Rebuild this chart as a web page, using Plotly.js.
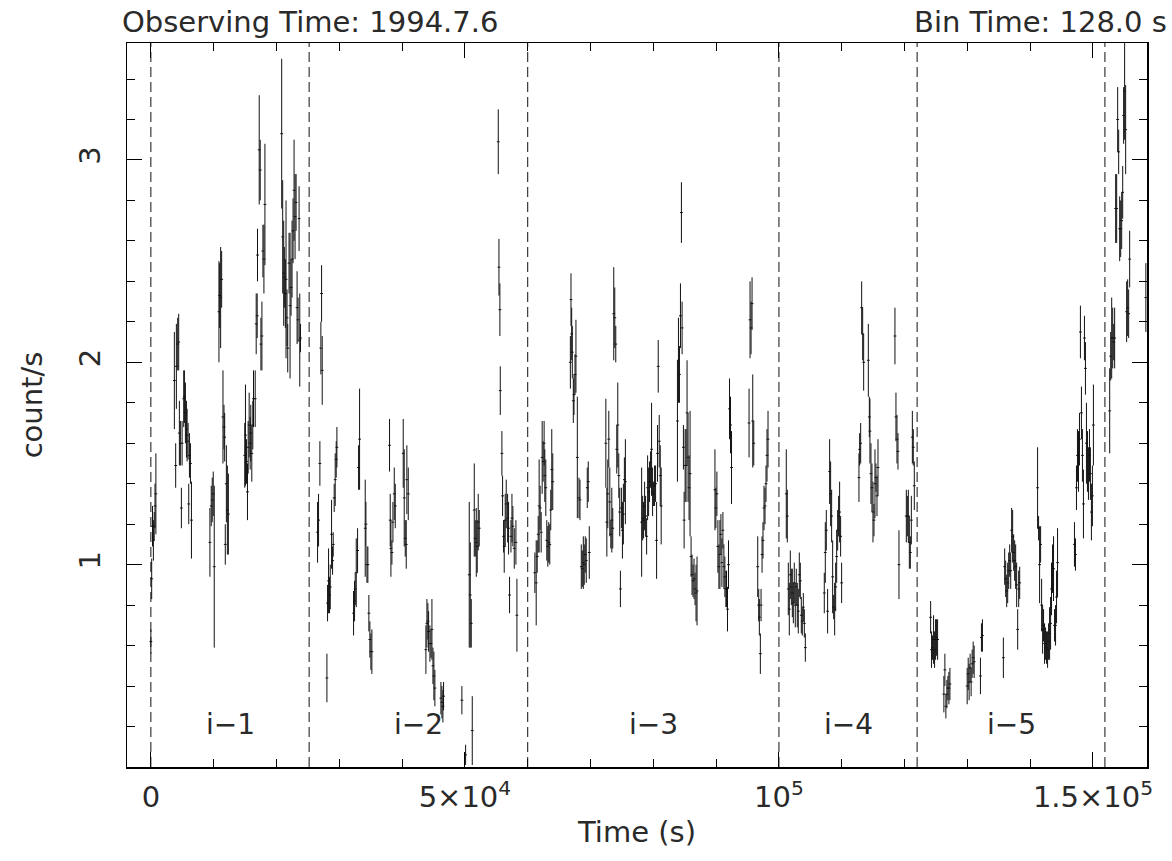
<!DOCTYPE html>
<html>
<head>
<meta charset="utf-8">
<script src="https://cdn.plot.ly/plotly-3.0.1.min.js"></script>
<style>
  html, body { margin: 0; padding: 0; background: #ffffff; }
  #chart { width: 1172px; height: 861px; }
</style>
</head>
<body>
<div id="chart"></div>
<script>
// ---- Light curve data (128 s bins) ----
const timeSec = [
  0,130,260,400,530,660,800,
  3740,3950,4060,4270,4430,4540,4700,4860,4970,5230,5340,5500,5660,5770,5930,6030,6140,6300,6460,
  9400,9610,9770,9930,10090,
  10840,10950,11110,11270,11480,11640,11750,11850,12020,12180,12340,
  14950,15060,15220,15380,15490,15650,15810,15910,16070,16230,16340,16610,16770,16930,16980,17250,17410,17520,17680,17840,18000,18160,
  20830,20990,21150,21250,21410,21520,21680,21790,22000,22160,22320,22480,22640,22800,22960,23120,23280,23440,23600,23710,23820,
  26540,26700,26910,27070,27180,27280,28030,
  28130,28290,28450,28560,28770,28930,29030,29190,29350,29510,29620,
  32270,32430,32540,32700,32910,33070,33230,34130,34240,34400,34550,34710,34870,35030,35190,
  38000,38110,38220,38380,38540,38750,38910,40180,40340,40500,40660,40760,40980,
  43790,43950,44110,44220,44430,44590,44750,44910,45060,45220,46180,46340,46500,46600,49520,50110,
  50690,50850,51010,51170,51490,51650,51810,51960,52120,52280,
  55310,55420,55570,55630,55890,56000,56160,56260,56420,56580,56800,56950,57110,57330,57490,57640,57860,58120,58280,
  61140,61350,61510,61670,61820,61980,62140,62300,62460,62610,62720,62880,63040,63200,63350,63510,63670,63830,63990,
  66790,66890,67000,67100,67260,67370,67530,67680,67900,68160,68320,68530,68690,68850,69000,69160,69320,69480,69640,69800,
  72440,72600,72750,72910,73070,73230,73390,73540,73700,73860,74020,74180,74340,74500,74650,74760,74920,75080,75230,75390,75550,
  78140,78300,78450,78610,78770,78930,79090,79250,79400,79560,79720,79880,80040,80200,80360,80520,80670,80780,80940,81100,81250,
  83840,84000,84160,84320,84470,84580,84790,84900,85060,85210,85370,85530,85690,85850,86010,86160,86320,86480,86640,86800,86960,
  89810,89960,90120,90280,90440,90600,90760,90920,91080,91230,91390,91550,91660,91810,91970,92130,92290,92450,
  95240,95400,95560,95720,95830,95990,96620,96780,96880,97040,97150,97310,97460,97620,97780,97940,98100,98260,
  101170,101330,101490,101650,101810,101970,102130,102290,102440,102600,102760,102920,103080,103240,103400,103560,103720,103880,104040,104200,
  107220,107380,107540,107750,108070,108230,108390,108550,108710,108870,109030,109190,109350,109500,109660,109820,109980,
  112740,112850,113010,113170,113330,113490,114230,114390,114490,114650,114810,114970,115130,115290,115450,115610,115770,
  118470,118630,118790,118950,119110,120280,120440,120600,120760,120920,121080,121240,121390,121550,
  124150,124300,124460,124620,124780,124940,125100,125260,
  126260,126420,126580,126740,126900,127060,127220,
  129970,130130,130280,130440,130600,130760,130920,131080,132080,132240,132400,
  135730,135940,136100,136260,136420,136580,136740,136900,137050,137210,137370,137530,137690,137850,138010,138170,138330,
  141180,141340,141500,141660,141820,141980,142130,142290,142450,142610,142770,142930,143090,143250,143400,143560,143720,143880,144040,144200,144360,
  147050,147210,147370,147530,147690,147850,148000,148160,148320,148480,148640,148800,148960,149120,149280,149440,149590,149750,149910,150070,
  152660,152820,152980,153140,153300,153450,153610,153770,153930,154090,154250,154410,154570,154730,154880,155040,155200,155360,155520,155680,155840,158420
];
const rateCps = [
  0.62,0.93,1.19,1.12,1.19,1.29,1.35,
  1.91,1.49,1.98,2.09,2.10,1.65,1.60,1.28,1.60,1.82,1.83,1.75,1.67,1.64,1.61,1.30,1.54,1.50,1.22,
  1.11,1.29,1.32,1.35,0.99,
  2.25,2.33,2.32,2.41,1.73,1.68,1.63,1.10,1.40,1.27,1.25,
  1.54,1.64,1.51,1.36,1.58,1.69,1.60,1.65,1.55,1.69,1.82,1.82,2.19,2.23,2.53,3.05,2.95,2.09,2.13,2.55,2.51,2.78,
  3.13,2.62,2.44,2.42,2.34,2.41,2.22,2.07,2.49,2.28,2.37,2.51,2.65,2.85,2.72,2.79,2.27,2.21,2.71,2.11,2.12,
  1.16,1.22,1.50,2.07,2.34,1.96,0.44,
  0.81,0.92,0.85,0.89,1.15,1.02,1.10,1.33,1.42,1.52,1.58,
  0.76,0.82,0.88,0.96,1.07,1.48,1.62,1.18,1.20,1.00,1.00,0.76,0.63,0.57,0.57,
  1.59,1.22,1.08,1.06,1.21,1.35,1.29,1.55,1.33,1.13,1.10,1.42,1.35,
  0.58,0.71,0.72,0.67,0.61,0.61,0.68,0.50,0.45,0.39,0.34,0.32,0.30,0.35,0.33,0.06,
  0.95,0.85,0.71,0.18,1.27,1.13,1.11,1.09,1.21,1.18,
  3.09,2.47,2.26,1.86,1.55,1.34,1.14,1.09,1.22,1.30,1.23,1.18,0.85,1.14,1.23,1.19,1.08,1.11,0.75,
  0.96,0.91,1.04,1.15,1.29,1.28,1.16,1.53,1.51,1.60,1.44,1.38,1.12,1.09,1.11,1.10,1.27,1.47,1.41,
  2.00,2.31,2.14,2.05,1.81,1.84,1.94,2.03,1.53,1.33,1.32,0.99,0.98,1.01,1.00,1.05,1.02,1.38,1.41,1.06,
  1.60,1.21,1.35,1.62,1.31,1.15,1.22,1.18,2.24,2.22,2.09,1.57,1.69,1.44,1.26,0.88,1.28,1.17,1.25,1.42,1.41,
  1.21,1.23,1.22,1.29,1.24,1.14,1.38,1.36,1.41,1.47,1.57,1.36,1.35,1.39,1.40,1.12,1.55,1.98,1.61,1.44,1.29,
  1.71,2.01,1.94,2.23,2.74,2.17,1.58,1.22,1.49,1.49,1.75,1.53,1.38,1.45,1.04,0.95,0.92,0.93,0.88,0.86,0.87,
  1.37,1.28,1.35,1.09,0.99,1.05,1.15,1.01,1.17,0.99,0.94,0.88,0.88,0.78,1.00,1.77,1.69,1.48,
  1.70,2.21,2.17,2.29,1.71,1.60,0.99,0.80,0.74,0.56,0.80,1.05,1.12,1.28,1.29,1.40,1.54,1.62,
  1.35,1.24,0.88,0.78,0.95,0.89,0.86,0.81,0.91,0.80,0.89,0.80,0.77,0.95,0.92,0.75,0.72,0.79,0.71,0.59,
  0.86,1.06,1.17,0.77,1.46,1.35,1.24,0.94,0.79,0.78,0.89,1.04,1.17,1.24,1.26,1.14,0.91,
  1.43,1.57,1.60,2.27,2.14,2.00,2.01,1.73,1.66,1.45,1.38,1.26,1.22,1.40,1.43,1.34,1.48,
  2.13,1.73,1.62,1.56,1.00,1.24,1.24,1.24,1.11,1.06,1.22,1.63,1.58,1.39,
  0.74,0.58,0.59,0.63,0.58,0.63,0.64,0.63,
  0.36,0.48,0.30,0.36,0.39,0.39,0.41,
  0.40,0.46,0.42,0.49,0.42,0.51,0.54,0.52,0.45,0.64,0.65,
  0.54,0.99,0.93,0.87,0.91,0.97,1.02,0.97,1.17,1.14,1.06,1.02,0.99,0.90,0.68,0.88,0.91,
  1.38,1.18,1.00,1.10,0.80,0.68,0.70,0.61,0.61,0.59,0.58,0.62,0.66,0.71,0.88,0.98,0.98,0.70,0.70,0.84,1.01,
  1.10,1.05,1.38,1.54,1.51,1.62,2.15,1.75,1.54,1.30,2.12,1.97,1.60,1.51,1.45,1.54,1.45,1.26,1.34,1.69,
  1.76,2.03,2.12,2.12,2.10,2.12,2.76,2.76,3.20,3.04,2.66,2.66,2.70,2.84,3.22,3.34,3.15,2.25,2.27,2.24,2.51,2.32
];
const rateErr = [
  0.06,0.10,0.10,0.10,0.07,0.11,0.20,
  0.24,0.11,0.21,0.13,0.14,0.16,0.11,0.10,0.11,0.14,0.13,0.15,0.14,0.13,0.09,0.10,0.11,0.10,0.19,
  0.17,0.10,0.11,0.11,0.40,
  0.25,0.16,0.25,0.14,0.23,0.11,0.12,0.10,0.19,0.22,0.20,
  0.16,0.25,0.11,0.14,0.13,0.16,0.13,0.14,0.14,0.12,0.14,0.14,0.15,0.11,0.13,0.27,0.15,0.13,0.17,0.13,0.17,0.30,
  0.37,0.28,0.26,0.15,0.17,0.39,0.14,0.12,0.15,0.36,0.14,0.19,0.16,0.25,0.21,0.14,0.18,0.11,0.16,0.23,0.07,
  0.15,0.13,0.11,0.13,0.14,0.17,0.12,
  0.09,0.16,0.09,0.11,0.17,0.07,0.06,0.07,0.13,0.09,0.10,
  0.11,0.10,0.08,0.17,0.11,0.11,0.25,0.24,0.11,0.09,0.09,0.09,0.09,0.09,0.11,
  0.13,0.13,0.14,0.06,0.10,0.13,0.11,0.17,0.24,0.09,0.12,0.17,0.13,
  0.12,0.12,0.09,0.10,0.09,0.07,0.15,0.09,0.12,0.09,0.08,0.08,0.08,0.07,0.07,0.05,
  0.36,0.26,0.12,0.17,0.23,0.09,0.17,0.13,0.14,0.09,
  0.16,0.14,0.13,0.12,0.11,0.10,0.08,0.13,0.13,0.12,0.12,0.13,0.09,0.08,0.12,0.10,0.10,0.11,0.18,
  0.10,0.21,0.08,0.09,0.23,0.11,0.10,0.18,0.10,0.11,0.13,0.14,0.10,0.10,0.10,0.10,0.10,0.20,0.14,
  0.13,0.13,0.13,0.13,0.11,0.10,0.10,0.18,0.30,0.10,0.10,0.11,0.09,0.13,0.10,0.09,0.11,0.10,0.10,0.13,
  0.22,0.17,0.17,0.14,0.17,0.07,0.16,0.10,0.23,0.15,0.09,0.12,0.21,0.11,0.12,0.09,0.10,0.14,0.15,0.11,0.21,
  0.27,0.11,0.09,0.12,0.10,0.09,0.16,0.12,0.10,0.09,0.23,0.12,0.06,0.10,0.09,0.19,0.14,0.13,0.13,0.15,0.19,
  0.30,0.21,0.14,0.16,0.15,0.13,0.11,0.14,0.18,0.18,0.26,0.22,0.16,0.31,0.10,0.10,0.08,0.10,0.08,0.14,0.17,
  0.20,0.10,0.11,0.13,0.11,0.17,0.10,0.12,0.09,0.11,0.10,0.09,0.09,0.11,0.12,0.15,0.14,0.18,
  0.17,0.19,0.13,0.13,0.23,0.11,0.15,0.08,0.09,0.10,0.08,0.09,0.09,0.11,0.09,0.09,0.13,0.14,
  0.22,0.13,0.13,0.13,0.12,0.09,0.12,0.10,0.10,0.11,0.09,0.11,0.11,0.11,0.09,0.09,0.07,0.07,0.07,0.07,
  0.10,0.15,0.10,0.11,0.16,0.16,0.13,0.18,0.06,0.13,0.12,0.13,0.10,0.10,0.15,0.10,0.10,
  0.12,0.08,0.10,0.13,0.13,0.14,0.18,0.10,0.16,0.15,0.12,0.15,0.08,0.17,0.07,0.10,0.14,
  0.14,0.12,0.12,0.09,0.17,0.13,0.10,0.13,0.13,0.08,0.12,0.13,0.09,0.12,
  0.08,0.09,0.06,0.12,0.09,0.10,0.09,0.10,
  0.09,0.08,0.06,0.07,0.06,0.08,0.08,
  0.09,0.08,0.09,0.07,0.07,0.07,0.08,0.08,0.09,0.07,0.08,
  0.10,0.09,0.09,0.08,0.10,0.09,0.08,0.09,0.11,0.13,0.09,0.10,0.11,0.11,0.10,0.09,0.08,
  0.20,0.06,0.19,0.09,0.13,0.12,0.08,0.10,0.08,0.08,0.09,0.09,0.13,0.13,0.13,0.12,0.16,0.08,0.10,0.13,0.17,
  0.11,0.08,0.11,0.13,0.15,0.13,0.13,0.13,0.13,0.17,0.11,0.13,0.20,0.15,0.13,0.13,0.13,0.14,0.15,0.20,
  0.21,0.12,0.20,0.15,0.09,0.15,0.17,0.17,0.16,0.11,0.16,0.14,0.14,0.13,0.14,0.24,0.22,0.15,0.14,0.12,0.14,0.17
];

// ---- Axis ticks ----
const xTickVals = [0, 50000, 100000, 150000];
const xTickText = ['0', '5×10<sup>4</sup>', '10<sup>5</sup>', '1.5×10<sup>5</sup>'];
const yTickVals = [1, 2, 3];
const yTickText = ['1', '2', '3'];

// ---- Interval boundaries (dashed lines) and names ----
const intervalBounds = [0, 25200, 60000, 100000, 122000, 151900];
const intervalNames = ['i\u22121', 'i\u22122', 'i\u22123', 'i\u22124', 'i\u22125'];

// ---- Header texts ----
const headerLeft = 'Observing Time: 1994.7.6';
const headerRight = 'Bin Time: 128.0 s';

const FONT = 'DejaVu Sans, Verdana, sans-serif';
const INK = '#111111';
const TXT = '#2a2a2a';

const trace = {
  type: 'scatter',
  mode: 'markers',
  x: timeSec,
  y: rateCps,
  marker: { symbol: 'line-ew', size: 2, color: INK, line: { width: 1, color: INK } },
  error_y: { type: 'data', array: rateErr, visible: true, color: INK, thickness: 1, width: 0 },
  hoverinfo: 'skip',
  showlegend: false
};

const shapes = intervalBounds.map(b => ({
  type: 'line', xref: 'x', yref: 'paper', x0: b, x1: b, y0: 0, y1: 1,
  line: { color: '#111111', width: 1, dash: '10px,5px' }
}));

const annotations = intervalNames.map((name, i) => ({
  x: (intervalBounds[i] + intervalBounds[i + 1]) / 2,
  y: 0.21, xref: 'x', yref: 'y',
  text: name, showarrow: false,
  font: { family: FONT, size: 28, color: TXT },
  xanchor: 'center', yanchor: 'middle'
}));
annotations.push({
  x: 0, y: 1, xref: 'paper', yref: 'paper', xanchor: 'left', yanchor: 'bottom',
  xshift: -7, yshift: 2, text: headerLeft, showarrow: false,
  font: { family: FONT, size: 29, color: TXT }
});
annotations.push({
  x: 1, y: 1, xref: 'paper', yref: 'paper', xanchor: 'right', yanchor: 'bottom',
  xshift: 22, yshift: 2, text: headerRight, showarrow: false,
  font: { family: FONT, size: 29, color: TXT }
});

const axisCommon = {
  showgrid: false, zeroline: false, showline: true, linecolor: '#000', linewidth: 1.5,
  mirror: 'ticks', ticks: 'inside', ticklen: 15, tickwidth: 1, tickcolor: '#000',
  tickmode: 'array', tickfont: { family: FONT, size: 29, color: TXT }
};

const layout = {
  width: 1172, height: 861,
  margin: { l: 127, r: 25, t: 43, b: 94, pad: 0 },
  paper_bgcolor: '#ffffff', plot_bgcolor: '#ffffff',
  showlegend: false,
  xaxis: Object.assign({}, axisCommon, {
    range: [-3800, 158600],
    tickvals: xTickVals, ticktext: xTickText,
    ticklabelstandoff: 4,
    minor: { tick0: 0, dtick: 10000, ticks: 'inside', ticklen: 8, tickwidth: 1, tickcolor: '#000', showgrid: false },
    title: { text: 'Time (s)', font: { family: FONT, size: 29, color: TXT }, standoff: 8 }
  }),
  yaxis: Object.assign({}, axisCommon, {
    range: [0, 3.578],
    tickvals: yTickVals, ticktext: yTickText, tickangle: -90,
    ticklabelstandoff: 14,
    minor: { tick0: 0, dtick: 0.2, ticks: 'inside', ticklen: 8, tickwidth: 1, tickcolor: '#000', showgrid: false },
    title: { text: 'count/s', font: { family: FONT, size: 29, color: TXT }, standoff: 22 }
  }),
  shapes: shapes,
  annotations: annotations
};

Plotly.newPlot('chart', [trace], layout, { displayModeBar: false, staticPlot: true });
</script>
</body>
</html>
